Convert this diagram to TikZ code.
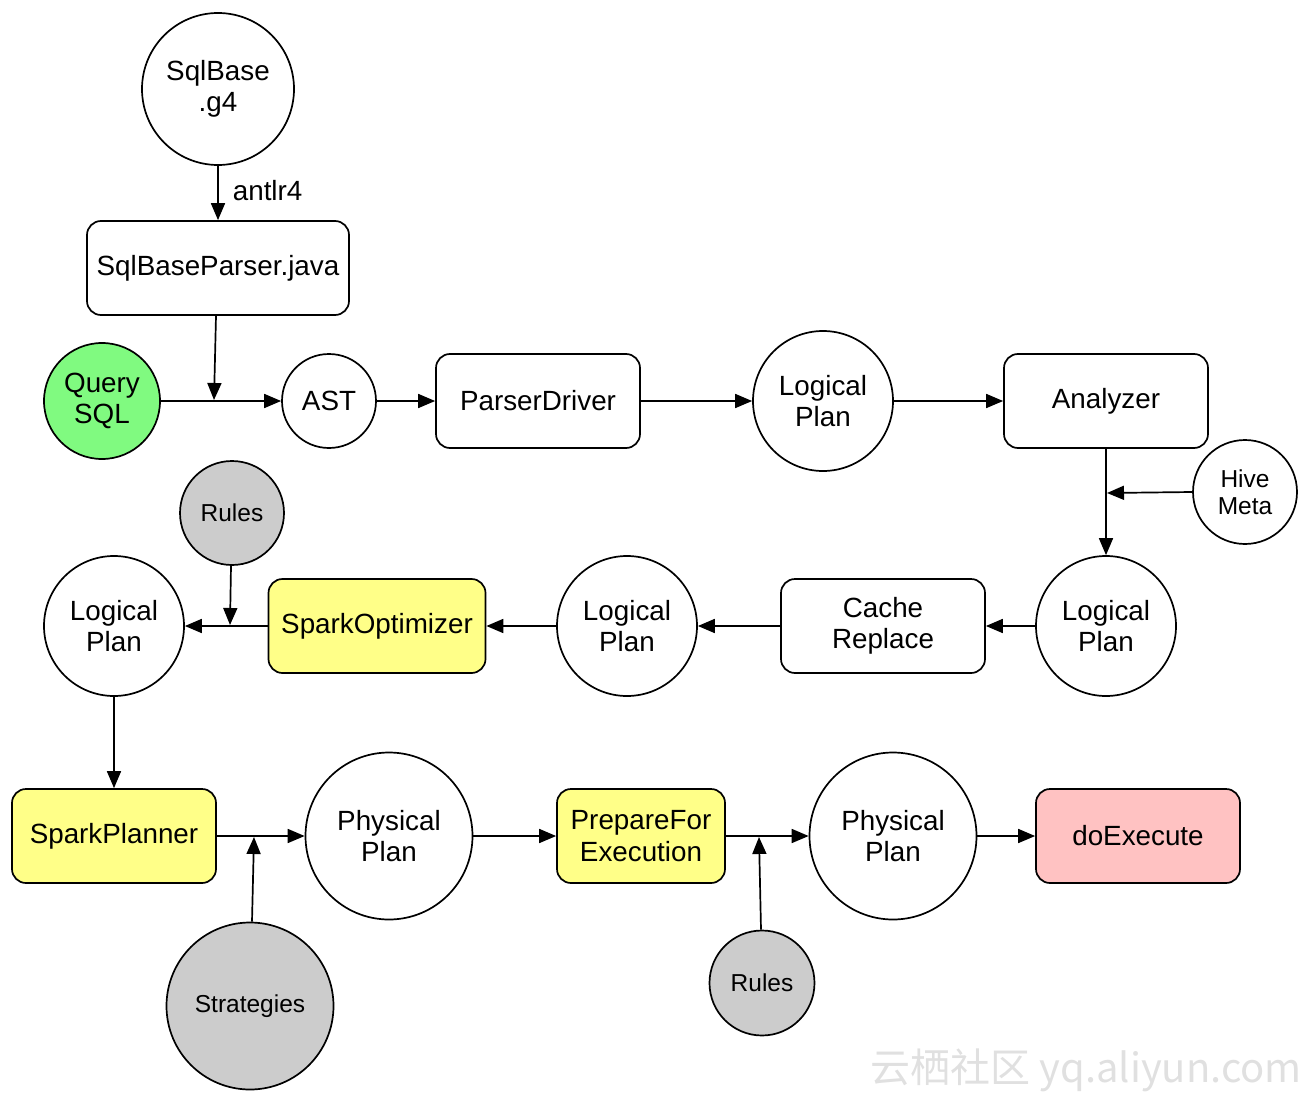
\documentclass[tikz,border=0pt]{standalone}
\usepackage{fontspec}
\setmainfont{Liberation Sans}
\newfontfamily\cjkwm{Noto Sans CJK SC}
\usetikzlibrary{arrows.meta}
\definecolor{qgreen}{HTML}{80FA80}
\definecolor{syellow}{HTML}{FFFF88}
\definecolor{spink}{HTML}{FFC2C2}
\definecolor{sgray}{HTML}{CCCCCC}
\begin{document}
\begin{tikzpicture}[x=1pt,y=-1pt,
  every node/.style={font=\fontsize{27.8}{31.5}\selectfont, align=center, inner sep=0pt},
  circ/.style={circle, draw, line width=1.7pt, fill=white},
  smallcirc/.style={circle, draw, line width=1.7pt, fill=sgray, font=\fontsize{24.5}{27}\selectfont},
  boxnode/.style={rectangle, draw, line width=1.7pt, rounded corners=14pt, fill=white, minimum height=94pt},
  conn/.style={line width=1.7pt, -{Triangle[length=17pt,width=14pt]}}
]
\useasboundingbox (0,0) rectangle (1314,1102);

% nodes
\node[circ, minimum size=152pt] (sqlbase) at (218,89) {SqlBase\\.g4};
\node[boxnode, minimum width=262pt] (parser) at (218,268) {SqlBaseParser.java};
\node[circ, fill=qgreen, minimum size=116pt] (query) at (102,401) {Query\\SQL};
\node[circ, minimum size=94pt] (ast) at (329,401) {AST};
\node[boxnode, minimum width=204pt] (pdriver) at (538,401) {ParserDriver};
\node[circ, minimum size=140pt] (lp1) at (823,401) {Logical\\Plan};
\node[boxnode, minimum width=204pt] (analyzer) at (1106,401) {Analyzer};
\node[circ, minimum size=104pt, font=\fontsize{24.5}{27}\selectfont] (hive) at (1245,492) {Hive\\Meta};
\node[circ, minimum size=140pt] (lp2) at (1106,626) {Logical\\Plan};
\node[boxnode, minimum width=204pt] (cache) at (883,626) {Cache\\Replace};
\node[circ, minimum size=140pt] (lp3) at (627,626) {Logical\\Plan};
\node[boxnode, fill=syellow, minimum width=217pt] (optim) at (377,626) {SparkOptimizer};
\node[smallcirc, minimum size=104pt] (rules1) at (232,513) {Rules};
\node[circ, minimum size=140pt] (lp4) at (114,626) {Logical\\Plan};
\node[boxnode, fill=syellow, minimum width=204pt] (planner) at (114,836) {SparkPlanner};
\node[circ, minimum size=167pt] (pp1) at (389,836) {Physical\\Plan};
\node[smallcirc, minimum size=167pt] (strat) at (250,1006) {Strategies};
\node[boxnode, fill=syellow, minimum width=168pt] (prep) at (641,836) {PrepareFor\\Execution};
\node[circ, minimum size=167pt] (pp2) at (893,836) {Physical\\Plan};
\node[smallcirc, minimum size=105pt] (rules2) at (762,983) {Rules};
\node[boxnode, fill=spink, minimum width=204pt] (exec) at (1138,836) {doExecute};

% junction points
\coordinate (j1) at (214,400);
\coordinate (j2) at (1107,493);
\coordinate (j3) at (230,625);
\coordinate (j4) at (254,837);
\coordinate (j5) at (759,837);

% connectors
\draw[conn] (sqlbase) -- node[pos=0.45, anchor=west] (antlr) {\hspace*{14pt}antlr4} (parser);
\draw[conn] (parser.south -| 216,0) -- (j1);
\draw[conn] (query) -- (ast);
\draw[conn] (ast) -- (pdriver);
\draw[conn] (pdriver) -- (lp1);
\draw[conn] (lp1) -- (analyzer);
\draw[conn] (analyzer) -- (lp2);
\draw[conn] (hive.west) -- (j2);
\draw[conn] (lp2) -- (cache);
\draw[conn] (cache) -- (lp3);
\draw[conn] (lp3) -- (optim);
\draw[conn] (optim) -- (lp4);
\draw[conn] (rules1.south -| 231,0) -- (j3);
\draw[conn] (lp4) -- (planner);
\draw[conn] (planner) -- (pp1);
\draw[conn] (strat.north -| 252,0) -- (j4);
\draw[conn] (pp1) -- (prep);
\draw[conn] (prep) -- (pp2);
\draw[conn] (rules2.north -| 761,0) -- (j5);
\draw[conn] (pp2) -- (exec);

% watermark
\node[font=\cjkwm\fontsize{40}{42}\selectfont, text=black!12, anchor=east] (wm) at (1302,1070) {云栖社区 yq.aliyun.com};
\end{tikzpicture}
\end{document}
